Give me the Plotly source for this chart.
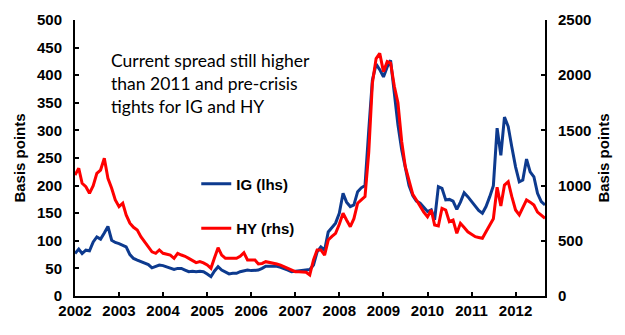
import pandas as pd
import plotly.graph_objects as go

months = pd.date_range("2002-01-01", "2012-09-01", freq="MS")

ig_lhs = [
    77, 85, 77, 83, 82, 98, 107, 103, 114, 126, 101, 97,      # 2002
    95, 92, 89, 75, 68, 65, 62, 60, 57, 51, 53, 56,           # 2003
    55, 53, 50, 48, 50, 50, 47, 44, 45, 44, 45, 44,           # 2004
    40, 35, 45, 53, 47, 43, 40, 41, 41, 44, 45, 47,           # 2005
    46, 47, 47, 50, 54, 54, 54, 54, 52, 50, 47, 44,           # 2006
    45, 46, 46, 47, 48, 56, 80, 89, 83, 116, 125, 132,        # 2007
    150, 186, 170, 162, 165, 189, 196, 200, 300, 391, 420, 410,  # 2008
    397, 415, 427, 370, 310, 265, 234, 200, 182, 172, 168, 160,  # 2009
    153, 156, 138, 198, 195, 174, 175, 172, 157, 170, 187, 180,  # 2010
    172, 162, 155, 150, 162, 180, 200, 304, 255, 324, 307, 270,  # 2011
    234, 207, 210, 248, 225, 216, 186, 171, 165,                  # 2012
]

hy_rhs = [
    1096, 1157, 1021, 990, 930, 1000, 1111, 1141, 1247, 1066, 976, 870,   # 2002
    809, 840, 734, 660, 622, 598, 537, 490, 453, 400, 387, 417,           # 2003
    387, 380, 370, 341, 387, 371, 360, 341, 320, 302, 311, 300,           # 2004
    281, 251, 341, 438, 371, 341, 341, 341, 341, 360, 392, 326,           # 2005
    326, 326, 290, 295, 311, 305, 296, 290, 280, 265, 250, 230,           # 2006
    220, 220, 220, 215, 190, 326, 417, 417, 371, 507, 540, 568,           # 2007
    650, 749, 688, 628, 700, 840, 870, 900, 1300, 1927, 2150, 2198,       # 2008
    2032, 2123, 2110, 1900, 1750, 1400, 1171, 1050, 920, 870, 809, 760,   # 2009
    718, 779, 643, 634, 794, 779, 673, 688, 568, 658, 620, 582,           # 2010
    560, 537, 530, 523, 582, 643, 700, 985, 815, 1005, 1035, 900,         # 2011
    779, 734, 800, 870, 850, 824, 760, 734, 704,                           # 2012
]

year_ticks = [f"{y}-01-01" for y in range(2002, 2013)]
year_labels = [str(y) for y in range(2002, 2013)]
left_ticks = list(range(0, 501, 50))
right_ticks = list(range(0, 2501, 500))

BLUE = "#0D3A8E"
RED = "#FF0000"
FONT = "Liberation Sans"

fig = go.Figure()
fig.add_trace(go.Scatter(x=months, y=ig_lhs, name="IG (lhs)", mode="lines",
                         line=dict(color=BLUE, width=3), legendgroup="a"))
fig.add_trace(go.Scatter(x=months, y=hy_rhs, name="HY (rhs)", mode="lines",
                         line=dict(color=RED, width=3), yaxis="y2", legendgroup="b"))

tickfont = dict(family=FONT, size=15, color="black", weight="bold")

fig.update_layout(
    width=625, height=335,
    margin=dict(l=75, r=80, t=20, b=39),
    paper_bgcolor="white", plot_bgcolor="white",
    showlegend=True,
    legend=dict(x=0.258, y=0.326, xanchor="left", yanchor="middle",
                font=dict(family=FONT, size=15, color="black", weight="bold"),
                bgcolor="rgba(0,0,0,0)", tracegroupgap=22, itemwidth=30),
    xaxis=dict(
        range=["2002-01-01", "2012-09-01"],
        tickmode="array", tickvals=year_ticks, ticktext=year_labels,
        showline=True, linecolor="black", linewidth=2,
        ticks="inside", ticklen=4, tickwidth=2, tickcolor="black",
        showgrid=False, zeroline=False, tickfont=tickfont,
    ),
    yaxis=dict(
        range=[0, 500], tickvals=left_ticks,
        showline=True, linecolor="black", linewidth=2,
        ticks="inside", ticklen=4, tickwidth=2, tickcolor="black",
        showgrid=False, zeroline=False, tickfont=tickfont,
        ticklabelstandoff=8,
        title=dict(text="Basis points", font=tickfont, standoff=8),
    ),
    yaxis2=dict(
        range=[0, 2500], tickvals=right_ticks, overlaying="y", side="right",
        showline=True, linecolor="black", linewidth=2,
        ticks="inside", ticklen=4, tickwidth=2, tickcolor="black",
        showgrid=False, zeroline=False, tickfont=tickfont,
        ticklabelstandoff=8,
        title=dict(text="Basis points", font=tickfont, standoff=8),
    ),
    annotations=[dict(
        text="Current spread still higher<br>than 2011 and pre-crisis<br>tights for IG and HY",
        xref="paper", yref="paper", x=0.073, y=0.9, xanchor="left", yanchor="top",
        align="left", showarrow=False,
        font=dict(family="Lato", size=17.5, color="black"),
    )],
)

fig.write_html("out.html")
